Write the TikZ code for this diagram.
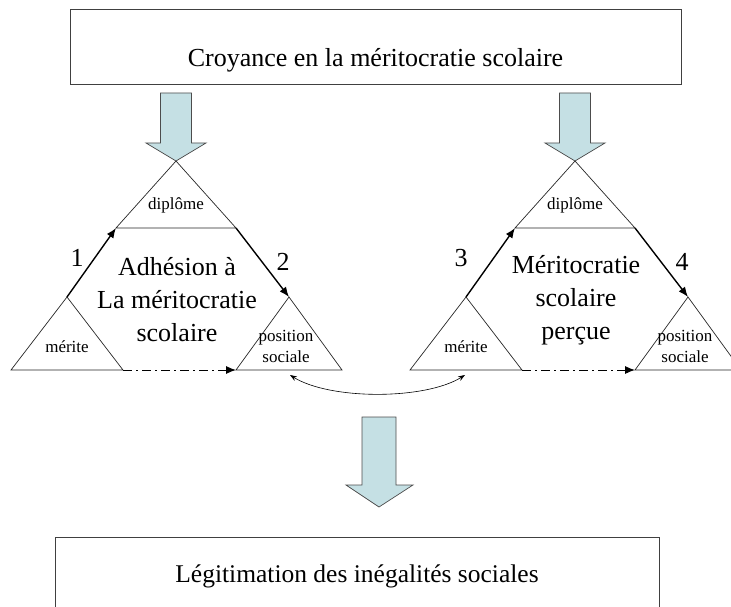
\documentclass[tikz,border=0pt]{standalone}
\usepackage{fontspec}
\setmainfont{Liberation Serif}
\usepackage{tikz}
\usetikzlibrary{arrows.meta}
\definecolor{arrowblue}{RGB}{197,224,228}

\begin{document}
\begin{tikzpicture}[x=1pt,y=-1pt,
  box/.style={draw=black!75, line width=1pt},
  tri/.style={draw=black!85, line width=0.7pt},
  blockarrow/.style={draw=black!70, line width=0.7pt, fill=arrowblue},
  link/.style={line width=1.4pt, -{Latex[length=10pt,width=8pt]}},
  smalltext/.style={font=\fontsize{17}{21}\selectfont, inner sep=0pt},
  bigtext/.style={font=\fontsize{26}{33}\selectfont, inner sep=0pt}]

  \useasboundingbox (0,0) rectangle (731,607);

  \pgfmathsetmacro{\triTop}{161}
  \pgfmathsetmacro{\midLine}{228}
  \pgfmathsetmacro{\smallTop}{297}
  \pgfmathsetmacro{\baseLine}{370}

  % Top and bottom boxes
  \draw[box] (70,10) rectangle (681,85);
  \node[font=\fontsize{26}{30}\selectfont, anchor=base] (croyance) at (375.5,67) {Croyance en la méritocratie scolaire};
  \draw[box] (55,620) |- (659,537) -- (659,620);
  \node[font=\fontsize{25.5}{30}\selectfont, anchor=base] (legitimation) at (357,582) {Légitimation des inégalités sociales};

  \foreach \cx/\tag/\numA/\dxA/\numB in {176/L/1/-99/2, 575/R/3/-114/4}
  {
    % Block arrow from the top box
    \draw[blockarrow] (\cx-15.5,93) -- (\cx+15.5,93) -- (\cx+15.5,143) -- (\cx+30,143)
      -- (\cx,\triTop) -- (\cx-30,143) -- (\cx-15.5,143) -- cycle;

    % Corners of the three small triangles
    \coordinate (diplomeTop\tag) at (\cx,\triTop);
    \coordinate (diplomeLeft\tag) at (\cx-60,\midLine);
    \coordinate (diplomeRight\tag) at (\cx+60,\midLine);
    \coordinate (meriteTop\tag) at (\cx-109,\smallTop);
    \coordinate (meriteLeft\tag) at (\cx-165,\baseLine);
    \coordinate (meriteRight\tag) at (\cx-53,\baseLine);
    \coordinate (positionTop\tag) at (\cx+113,\smallTop);
    \coordinate (positionLeft\tag) at (\cx+60,\baseLine);
    \coordinate (positionRight\tag) at (\cx+166,\baseLine);

    \draw[tri] (diplomeTop\tag) -- (diplomeLeft\tag) -- (diplomeRight\tag) -- cycle;
    \draw[tri] (meriteTop\tag) -- (meriteLeft\tag) -- (meriteRight\tag) -- cycle;
    \draw[tri] (positionTop\tag) -- (positionLeft\tag) -- (positionRight\tag) -- cycle;

    \node[smalltext] (diplome\tag) at (\cx,205) {diplôme};
    \node[smalltext] (merite\tag) at (\cx-109,347) {mérite};
    \node[smalltext, align=center] (position\tag) at (\cx+110,346) {position\\sociale};

    % Links between the triangles
    \draw[link] (meriteTop\tag) -- (diplomeLeft\tag);
    \draw[link] (diplomeRight\tag) -- (positionTop\tag);
    \draw[line width=0.9pt, dash pattern=on 9pt off 4pt on 2pt off 4pt,
      -{Latex[length=10pt,width=8pt]}] (meriteRight\tag) -- (positionLeft\tag);

    \node[bigtext] (numA\tag) at (\cx\dxA,258) {\numA};
    \node[bigtext] (numB\tag) at (\cx+107,262) {\numB};
  }

  \node[bigtext, align=center] (adhesion) at (177,300) {Adhésion à\\La méritocratie\\scolaire};
  \node[bigtext, align=center] (percue) at (576,300) {Méritocratie\\scolaire\\perçue};

  % Curved double arrow between the two triangles
  \coordinate (socialL) at (290,375);
  \coordinate (meritR) at (465,375);
  \draw[line width=0.6pt, {Stealth[length=7pt,width=5pt]}-{Stealth[length=7pt,width=5pt]}]
    (socialL) .. controls (330,400) and (425,400) .. (meritR);

  % Block arrow to the bottom box
  \draw[blockarrow] (362,417) -- (396,417) -- (396,485) -- (413,485) -- (379,507)
    -- (346,485) -- (362,485) -- cycle;

\end{tikzpicture}
\end{document}
